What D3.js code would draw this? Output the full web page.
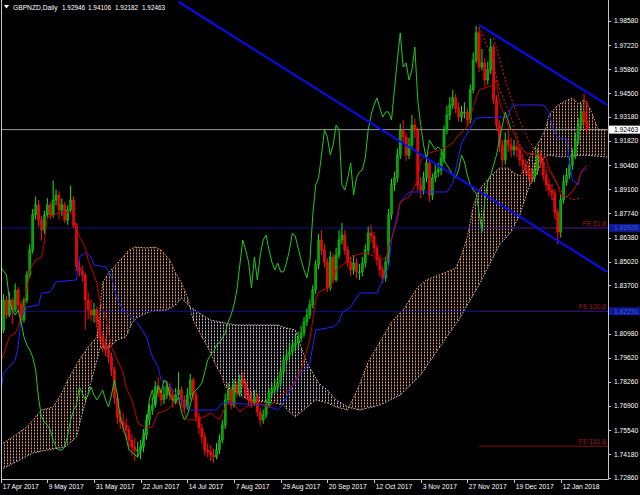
<!DOCTYPE html>
<html><head><meta charset="utf-8">
<script src="https://cdn.jsdelivr.net/npm/d3@7"></script>
<style>html,body{margin:0;padding:0;background:#000;} svg{display:block;}</style>
</head><body>
<svg id="c" width="640" height="495"></svg>
<script>
// ---------- data ----------
const symbolTitle = "GBPNZD,Daily";
const headerValues = ["1.92946","1.94106","1.92182","1.92463"];

const dateTickIndex = [0,16,32,48,64,80,96,112,128,144,160,176,192];
const dateTickLabels = ["17 Apr 2017","9 May 2017","31 May 2017","22 Jun 2017","14 Jul 2017","7 Aug 2017","29 Aug 2017","20 Sep 2017","12 Oct 2017","3 Nov 2017","27 Nov 2017","19 Dec 2017","12 Jan 2018"];

const priceTicks = [1.98580,1.97220,1.95860,1.94500,1.93180,1.91820,1.90460,1.89100,1.87740,1.86380,1.85020,1.83700,1.80980,1.79620,1.78260,1.76900,1.75540,1.74180,1.72860];

const open = [1.8250,1.8118,1.8287,1.8202,1.8287,1.8231,1.8343,1.8259,1.8174,1.8287,
1.8428,1.8568,1.8766,1.8822,1.8737,1.8681,1.8766,1.8822,1.8766,1.8850,
1.8878,1.8794,1.8822,1.8737,1.8794,1.8850,1.8709,1.8473,1.8450,1.8428,
1.8287,1.8231,1.8202,1.8231,1.8163,1.8079,1.8033,1.8005,1.7966,1.7893,
1.7735,1.7628,1.7600,1.7583,1.7555,1.7498,1.7459,1.7442,1.7442,1.7459,
1.7527,1.7611,1.7667,1.7695,1.7797,1.7763,1.7724,1.7752,1.7797,1.7752,
1.7724,1.7752,1.7780,1.7724,1.7684,1.7752,1.7836,1.7752,1.7628,1.7566,
1.7515,1.7442,1.7431,1.7414,1.7403,1.7442,1.7498,1.7583,1.7724,1.7780,
1.7695,1.7808,1.7763,1.7836,1.7819,1.7752,1.7724,1.7707,1.7741,1.7656,
1.7611,1.7639,1.7695,1.7763,1.7780,1.7797,1.7819,1.7882,1.7949,1.7977,
1.7994,1.8033,1.8045,1.8073,1.8101,1.8163,1.8202,1.8259,1.8343,1.8484,
1.8625,1.8568,1.8500,1.8355,1.8529,1.8400,1.8540,1.8625,1.8653,1.8568,
1.8500,1.8456,1.8495,1.8445,1.8445,1.8495,1.8568,1.8664,1.8647,1.8580,
1.8512,1.8456,1.8411,1.8500,1.8766,1.8935,1.8974,1.9103,1.9244,1.9205,
1.9103,1.9160,1.9272,1.9244,1.8935,1.8906,1.8974,1.9058,1.8878,1.8974,
1.9008,1.9019,1.9087,1.9244,1.9329,1.9385,1.9425,1.9368,1.9317,1.9346,
1.9346,1.9301,1.9470,1.9638,1.9791,1.9599,1.9622,1.9526,1.9582,1.9712,
1.9413,1.9272,1.9160,1.9075,1.9188,1.9160,1.9132,1.9149,1.9132,1.9075,
1.9047,1.9019,1.8991,1.8974,1.9019,1.9103,1.9064,1.8991,1.8935,1.8906,
1.8889,1.8782,1.8670,1.8850,1.8952,1.8991,1.9047,1.9103,1.9188,1.9272,
1.9346,1.92946];

const high = [1.8290,1.8320,1.8310,1.8330,1.8300,1.8380,1.8360,1.8280,1.8300,1.8450,
1.8600,1.8800,1.8870,1.8850,1.8760,1.8790,1.8860,1.8840,1.8960,1.8910,
1.8900,1.8860,1.8840,1.8820,1.8930,1.8870,1.8720,1.8510,1.8480,1.8440,
1.8330,1.8290,1.8270,1.8250,1.8190,1.8110,1.8070,1.8040,1.7990,1.7910,
1.7760,1.7670,1.7650,1.7620,1.7580,1.7530,1.7510,1.7490,1.7500,1.7560,
1.7640,1.7700,1.7740,1.7830,1.7850,1.7790,1.7800,1.7830,1.7820,1.7780,
1.7790,1.7880,1.7800,1.7750,1.7790,1.7870,1.7850,1.7770,1.7650,1.7590,
1.7540,1.7480,1.7470,1.7450,1.7480,1.7530,1.7610,1.7760,1.7820,1.7800,
1.7840,1.7830,1.7870,1.7880,1.7840,1.7790,1.7770,1.7780,1.7760,1.7680,
1.7670,1.7730,1.7790,1.7820,1.7840,1.7860,1.7910,1.7980,1.8010,1.8040,
1.8060,1.8090,1.8110,1.8140,1.8190,1.8240,1.8290,1.8370,1.8510,1.8660,
1.8680,1.8600,1.8520,1.8560,1.8550,1.8580,1.8680,1.8720,1.8680,1.8590,
1.8530,1.8540,1.8520,1.8490,1.8530,1.8600,1.8700,1.8710,1.8670,1.8600,
1.8540,1.8480,1.8530,1.8800,1.8970,1.9010,1.9140,1.9280,1.9300,1.9230,
1.9200,1.9330,1.9310,1.9260,1.8980,1.9010,1.9100,1.9080,1.9000,1.9050,
1.9060,1.9120,1.9270,1.9380,1.9430,1.9470,1.9450,1.9400,1.9380,1.9400,
1.9370,1.9500,1.9680,1.9830,1.9820,1.9700,1.9650,1.9630,1.9760,1.9730,
1.9440,1.9300,1.9190,1.9230,1.9260,1.9200,1.9190,1.9180,1.9160,1.9110,
1.9080,1.9050,1.9030,1.9060,1.9140,1.9130,1.9090,1.9020,1.8970,1.8940,
1.8910,1.8800,1.8880,1.8990,1.9030,1.9090,1.9140,1.9230,1.9310,1.9390,
1.9450,1.94106];

const low = [1.8080,1.8100,1.8180,1.8190,1.8150,1.8220,1.8230,1.8150,1.8160,1.8270,
1.8410,1.8550,1.8740,1.8700,1.8620,1.8660,1.8750,1.8740,1.8750,1.8820,
1.8740,1.8760,1.8720,1.8710,1.8780,1.8690,1.8450,1.8420,1.8390,1.8120,
1.8180,1.8170,1.8160,1.8130,1.8050,1.7990,1.7970,1.7930,1.7860,1.7700,
1.7590,1.7560,1.7540,1.7500,1.7460,1.7410,1.7380,1.7400,1.7390,1.7430,
1.7500,1.7580,1.7640,1.7680,1.7740,1.7690,1.7700,1.7730,1.7720,1.7680,
1.7700,1.7730,1.7690,1.7650,1.7670,1.7730,1.7720,1.7600,1.7530,1.7480,
1.7410,1.7400,1.7380,1.7370,1.7390,1.7420,1.7480,1.7560,1.7700,1.7670,
1.7680,1.7740,1.7740,1.7790,1.7730,1.7690,1.7680,1.7690,1.7630,1.7580,
1.7590,1.7620,1.7680,1.7740,1.7760,1.7770,1.7800,1.7860,1.7920,1.7950,
1.7970,1.8000,1.8010,1.8050,1.8080,1.8140,1.8180,1.8240,1.8320,1.8460,
1.8540,1.8470,1.8330,1.8340,1.8380,1.8390,1.8520,1.8600,1.8540,1.8470,
1.8420,1.8430,1.8410,1.8400,1.8420,1.8470,1.8540,1.8610,1.8550,1.8480,
1.8420,1.8380,1.8390,1.8480,1.8740,1.8900,1.8950,1.9080,1.9170,1.9070,
1.9080,1.9140,1.9200,1.8900,1.8860,1.8880,1.8950,1.8840,1.8850,1.8950,
1.8980,1.8990,1.9060,1.9220,1.9300,1.9360,1.9340,1.9290,1.9290,1.9310,
1.9260,1.9280,1.9450,1.9620,1.9570,1.9580,1.9490,1.9500,1.9560,1.9390,
1.9240,1.9120,1.9040,1.9050,1.9120,1.9090,1.9100,1.9090,1.9040,1.9010,
1.8990,1.8960,1.8940,1.8950,1.8990,1.9030,1.8960,1.8900,1.8870,1.8850,
1.8740,1.8600,1.8640,1.8830,1.8930,1.8970,1.9020,1.9080,1.9160,1.9250,
1.9270,1.92182];

const close = [1.8118,1.8287,1.8202,1.8287,1.8231,1.8343,1.8259,1.8174,1.8287,1.8428,
1.8568,1.8766,1.8822,1.8737,1.8681,1.8766,1.8822,1.8766,1.8850,1.8878,
1.8794,1.8822,1.8737,1.8794,1.8850,1.8709,1.8473,1.8450,1.8428,1.8287,
1.8231,1.8202,1.8231,1.8163,1.8079,1.8033,1.8005,1.7966,1.7893,1.7735,
1.7628,1.7600,1.7583,1.7555,1.7498,1.7459,1.7442,1.7442,1.7459,1.7527,
1.7611,1.7667,1.7695,1.7797,1.7763,1.7724,1.7752,1.7797,1.7752,1.7724,
1.7752,1.7780,1.7724,1.7684,1.7752,1.7836,1.7752,1.7628,1.7566,1.7515,
1.7442,1.7431,1.7414,1.7403,1.7442,1.7498,1.7583,1.7724,1.7780,1.7695,
1.7808,1.7763,1.7836,1.7819,1.7752,1.7724,1.7707,1.7741,1.7656,1.7611,
1.7639,1.7695,1.7763,1.7780,1.7797,1.7819,1.7882,1.7949,1.7977,1.7994,
1.8033,1.8045,1.8073,1.8101,1.8163,1.8202,1.8259,1.8343,1.8484,1.8625,
1.8568,1.8500,1.8355,1.8529,1.8400,1.8540,1.8625,1.8653,1.8568,1.8500,
1.8456,1.8495,1.8445,1.8445,1.8495,1.8568,1.8664,1.8647,1.8580,1.8512,
1.8456,1.8411,1.8500,1.8766,1.8935,1.8974,1.9103,1.9244,1.9205,1.9103,
1.9160,1.9272,1.9244,1.8935,1.8906,1.8974,1.9058,1.8878,1.8974,1.9008,
1.9019,1.9087,1.9244,1.9329,1.9385,1.9425,1.9368,1.9317,1.9346,1.9346,
1.9301,1.9470,1.9638,1.9791,1.9599,1.9622,1.9526,1.9582,1.9712,1.9413,
1.9272,1.9160,1.9075,1.9188,1.9160,1.9132,1.9149,1.9132,1.9075,1.9047,
1.9019,1.8991,1.8974,1.9019,1.9103,1.9064,1.8991,1.8935,1.8906,1.8889,
1.8782,1.8670,1.8850,1.8952,1.8991,1.9047,1.9103,1.9188,1.9272,1.9346,
1.92946,1.92463];

// Ichimoku lines as [bar index, price]
const tenkan = [[0,1.7932],[3,1.8079],[5,1.8101],[6,1.8135],[8,1.8247],[10,1.8456],[12,1.8512],[14,1.8529],[15,1.8608],[16,1.8754],[20,1.8777],[24,1.8782],[25,1.8754],[27,1.8642],[29,1.8585],[30,1.8512],[31,1.8473],[33,1.8383],[34,1.8287],[36,1.8191],[37,1.8101],[38,1.8022],[40,1.7949],[42,1.7876],[43,1.7797],[45,1.7724],[46,1.7667],[47,1.7594],[50,1.7566],[52,1.7572],[54,1.7651],[57,1.7667],[60,1.7712],[62,1.7695],[64,1.7611],[66,1.7611],[69,1.7622],[72,1.7651],[75,1.7611],[77,1.7684],[79,1.7724],[82,1.7656],[84,1.7684],[88,1.7707],[92,1.7684],[97,1.7763],[99,1.7780],[101,1.7836],[103,1.7893],[106,1.8062],[108,1.8287],[109,1.8332],[113,1.8360],[115,1.8456],[118,1.8495],[122,1.8540],[125,1.8552],[129,1.8529],[132,1.8512],[133,1.8585],[136,1.8737],[137,1.8839],[140,1.8867],[143,1.8963],[144,1.9075],[147,1.9115],[151,1.9132],[155,1.9171],[157,1.9216],[160,1.9261],[162,1.9374],[164,1.9470],[169,1.9498],[170,1.9526],[171,1.9402],[174,1.9272],[176,1.9227],[178,1.9148],[180,1.9115],[185,1.9103],[187,1.9087],[188,1.9030],[191,1.8935],[192,1.8878],[194,1.8867],[196,1.8895],[198,1.8952],[199,1.9008],[201,1.9047]];

const kijun = [[0,1.7763],[1,1.7876],[3,1.7910],[5,1.7949],[6,1.8022],[7,1.8191],[9,1.8247],[13,1.8259],[14,1.8326],[17,1.8332],[18,1.8360],[19,1.8389],[26,1.8400],[27,1.8529],[29,1.8552],[31,1.8529],[32,1.8484],[36,1.8473],[38,1.8416],[40,1.8287],[42,1.8231],[47,1.8157],[50,1.8079],[52,1.7966],[54,1.7910],[55,1.7836],[57,1.7819],[60,1.7763],[62,1.7724],[65,1.7667],[74,1.7667],[76,1.7707],[91,1.7695],[95,1.7667],[96,1.7684],[98,1.7741],[102,1.7854],[106,1.7932],[108,1.8118],[114,1.8135],[116,1.8163],[117,1.8214],[120,1.8247],[123,1.8326],[129,1.8326],[131,1.8400],[133,1.8473],[134,1.8625],[137,1.8839],[140,1.8895],[153,1.8895],[155,1.8946],[158,1.9171],[160,1.9227],[163,1.9312],[174,1.9318],[175,1.9374],[177,1.9385],[186,1.9385],[188,1.9346],[189,1.9272],[191,1.9199],[194,1.9194],[195,1.9064],[196,1.8963],[198,1.8935],[199,1.9008],[201,1.9030]];

const spanA = [[0,1.7470],[4,1.7515],[9,1.7572],[14,1.7667],[18,1.7684],[21,1.7763],[23,1.7836],[27,1.7949],[30,1.8022],[33,1.8079],[35,1.8383],[37,1.8439],[41,1.8512],[44,1.8568],[46,1.8585],[50,1.8580],[53,1.8585],[55,1.8568],[58,1.8512],[60,1.8439],[62,1.8383],[64,1.8304],[66,1.8174],[69,1.8079],[71,1.8022],[72,1.7988],[74,1.7910],[76,1.7854],[77,1.7797],[81,1.7763],[85,1.7724],[91,1.7712],[94,1.7707],[97,1.7695],[99,1.7656],[101,1.7628],[103,1.7656],[105,1.7684],[108,1.7724],[112,1.7707],[115,1.7684],[119,1.7667],[123,1.7808],[126,1.7938],[130,1.8051],[134,1.8163],[138,1.8231],[143,1.8360],[146,1.8400],[153,1.8445],[156,1.8467],[158,1.8540],[160,1.8642],[162,1.8811],[164,1.8906],[168,1.8985],[171,1.9030],[174,1.9030],[176,1.9002],[178,1.8985],[180,1.9036],[182,1.9115],[185,1.9188],[187,1.9261],[188,1.9329],[191,1.9385],[193,1.9402],[196,1.9425],[198,1.9391],[200,1.9413],[202,1.9368],[204,1.9284],[205,1.9244],[208,1.9244]];

const spanB = [[0,1.7330],[11,1.7425],[16,1.7442],[22,1.7459],[26,1.7515],[28,1.7651],[30,1.7763],[33,1.7949],[34,1.8017],[37,1.8017],[40,1.8062],[43,1.8079],[45,1.8157],[47,1.8191],[51,1.8220],[57,1.8231],[60,1.8259],[62,1.8298],[65,1.8247],[68,1.8214],[72,1.8174],[77,1.8157],[81,1.8146],[95,1.8146],[98,1.8129],[101,1.8118],[103,1.8022],[105,1.7932],[107,1.7876],[109,1.7819],[112,1.7780],[115,1.7724],[119,1.7684],[123,1.7667],[130,1.7695],[137,1.7752],[144,1.7865],[151,1.8033],[157,1.8174],[164,1.8372],[171,1.8597],[175,1.8670],[178,1.8766],[181,1.8918],[184,1.9008],[186,1.9087],[188,1.9103],[192,1.9092],[200,1.9103],[208,1.9092]];

const chikouShift = 26;
const currentPrice = 1.92463;
const fullWidthLevels = [1.86926, 1.82231];
const feLabels = ["FE 61.8","FE 100.0","FE 161.8"];
const fePrices = [1.86926, 1.82231, 1.74635];
const feStartIndex = 164;
const trendLines = [[[61,1.9966],[208,1.8445]], [[164,1.9836],[208,1.9385]]];
const dottedLines = [
  [[164,1.9824],[168,1.9667],[171,1.9481],[175,1.9312],[178,1.9160],[183,1.9047],[187,1.8963],[190,1.8822],[192,1.8636]],
  [[169,1.9762],[173,1.9526],[177,1.9329],[181,1.9188],[185,1.9087],[189,1.8991],[193,1.8878],[196,1.8850],[199,1.8861]]
];

// ---------- drawing ----------
const W = 640, H = 495, PL = 2, PR = 608, PT = 0, PB = 479;
const FONT = "'Liberation Sans', Arial, sans-serif";
const FS = 6.7;
const svg = d3.select("#c");
svg.append("rect").attr("width", W).attr("height", H).attr("fill", "#000");

const x = d3.scaleLinear().domain([0, 192]).range([0.63, 560.7]);
const y = d3.scaleLinear().domain([1.72860, 1.98580]).range([477.7, 21]);

const defs = svg.append("defs");
defs.append("clipPath").attr("id", "plot").append("rect")
  .attr("x", PL).attr("y", PT).attr("width", PR - PL).attr("height", PB - PT);
function dotPattern(id, color) {
  const p = defs.append("pattern").attr("id", id).attr("patternUnits", "userSpaceOnUse")
    .attr("width", 3).attr("height", 3);
  p.append("rect").attr("x", 1).attr("y", 0.5).attr("width", 1).attr("height", 1.8).attr("fill", color);
}
dotPattern("dotOrange", "#f4a460");
dotPattern("dotThistle", "#d8bfd8");

const aboveB = d3.area().x(d => x(d[0])).y0(PT).y1(d => y(d[1]));
const belowB = d3.area().x(d => x(d[0])).y0(PB).y1(d => y(d[1]));
defs.append("clipPath").attr("id", "aboveB").append("path").attr("d", aboveB(spanB));
defs.append("clipPath").attr("id", "belowB").append("path").attr("d", belowB(spanB));

const plot = svg.append("g").attr("clip-path", "url(#plot)");
const line = d3.line().x(d => x(d[0])).y(d => y(d[1]));

// cloud
const band = line(spanA.concat(spanB.slice().reverse())) + "Z";
plot.append("g").attr("clip-path", "url(#aboveB)").append("path").attr("d", band).attr("fill", "url(#dotOrange)");
plot.append("g").attr("clip-path", "url(#belowB)").append("path").attr("d", band).attr("fill", "url(#dotThistle)");
plot.append("path").attr("d", line(spanA)).attr("fill", "none").attr("stroke", "#f4a460")
  .attr("stroke-width", 1).attr("stroke-dasharray", "1.5,1.5");
plot.append("path").attr("d", line(spanB)).attr("fill", "none").attr("stroke", "#d8bfd8")
  .attr("stroke-width", 1).attr("stroke-dasharray", "1.5,1.5");

// horizontal levels
plot.append("line").attr("x1", PL).attr("x2", PR).attr("y1", y(currentPrice)).attr("y2", y(currentPrice))
  .attr("stroke", "#9a9a9a").attr("stroke-width", 1);
fePrices.forEach((p, k) => {
  plot.append("line").attr("x1", x(feStartIndex)).attr("x2", PR).attr("y1", y(p)).attr("y2", y(p))
    .attr("stroke", "#8b0a0a").attr("stroke-width", 1);
});
fullWidthLevels.forEach(p => {
  plot.append("line").attr("x1", PL).attr("x2", PR).attr("y1", y(p)).attr("y2", y(p))
    .attr("stroke", "#12128e").attr("stroke-width", 1);
});

// candles
const bars = plot.append("g");
close.forEach((c, i) => {
  const o = open[i], up = c >= o;
  const wick = up ? "#22e022" : "#ff1010";
  bars.append("line").attr("x1", x(i)).attr("x2", x(i)).attr("y1", y(high[i])).attr("y2", y(low[i]))
    .attr("stroke", wick).attr("stroke-width", 1);
  const yt = y(Math.max(o, c)), yb = y(Math.min(o, c));
  bars.append("rect").attr("x", x(i) - 1.1).attr("width", 2.2)
    .attr("y", yt).attr("height", Math.max(1, yb - yt))
    .attr("fill", up ? "#00a600" : "#f00000")
    .attr("stroke", up ? "#1fd01f" : "#ff2020").attr("stroke-width", 0.4);
});

// Ichimoku lines
plot.append("path").attr("d", line(kijun)).attr("fill", "none").attr("stroke", "#2222ff").attr("stroke-width", 1);
plot.append("path").attr("d", line(tenkan)).attr("fill", "none").attr("stroke", "#c80000").attr("stroke-width", 1);
const chikou = close.map((c, i) => [i - chikouShift, c]).filter(d => d[0] >= 0);
plot.append("path").attr("d", line(chikou)).attr("fill", "none").attr("stroke", "#22c822").attr("stroke-width", 1);

dottedLines.forEach(dl => {
  plot.append("path").attr("d", line(dl)).attr("fill", "none").attr("stroke", "#e01818")
    .attr("stroke-width", 1).attr("stroke-dasharray", "2,2");
});

// trend lines
trendLines.forEach(tl => {
  plot.append("path").attr("d", line(tl)).attr("fill", "none").attr("stroke", "#0a0aff").attr("stroke-width", 2);
});

// FE labels
fePrices.forEach((p, k) => {
  svg.append("text").attr("x", 606).attr("y", y(p) - 2).attr("text-anchor", "end")
    .attr("font-family", FONT).attr("font-size", FS).attr("fill", "#a01818").text(feLabels[k]);
});

// frame / axes
svg.append("line").attr("x1", 1.5).attr("x2", 1.5).attr("y1", 0).attr("y2", PB).attr("stroke", "#c8c8c8");
svg.append("line").attr("x1", PR + 0.5).attr("x2", PR + 0.5).attr("y1", 0).attr("y2", PB + 0.5).attr("stroke", "#c8c8c8");
svg.append("line").attr("x1", 1.5).attr("x2", PR + 0.5).attr("y1", PB + 0.5).attr("y2", PB + 0.5).attr("stroke", "#c8c8c8");

const fmt = d3.format(".5f");
priceTicks.forEach(p => {
  const yy = Math.round(y(p)) + 0.5;
  svg.append("line").attr("x1", PR).attr("x2", PR + 3).attr("y1", yy).attr("y2", yy).attr("stroke", "#c8c8c8");
  svg.append("text").attr("x", 614).attr("y", y(p) + 2.4).attr("font-family", FONT).attr("font-size", FS)
    .attr("fill", "#fff").text(fmt(p));
});
// highlighted axis labels
fullWidthLevels.forEach(p => {
  svg.append("rect").attr("x", PR + 1).attr("y", y(p) - 4).attr("width", W - PR - 1).attr("height", 8).attr("fill", "#0c1a98");
  svg.append("text").attr("x", 614).attr("y", y(p) + 2.4).attr("font-family", FONT).attr("font-size", FS)
    .attr("fill", "#4456cc").text(fmt(p));
});
svg.append("rect").attr("x", PR + 1).attr("y", y(currentPrice) - 4).attr("width", W - PR - 1).attr("height", 8).attr("fill", "#fff");
svg.append("text").attr("x", 614).attr("y", y(currentPrice) + 2.4).attr("font-family", FONT).attr("font-size", FS)
  .attr("fill", "#000").text(fmt(currentPrice));

dateTickIndex.forEach((di, k) => {
  const xx = Math.max(1.5, Math.round(x(di)) + 0.5);
  svg.append("line").attr("x1", xx).attr("x2", xx).attr("y1", PB).attr("y2", PB + 4).attr("stroke", "#c8c8c8");
  svg.append("text").attr("x", xx + 1.2).attr("y", 488.5).attr("font-family", FONT).attr("font-size", FS)
    .attr("fill", "#fff").text(dateTickLabels[k]);
});

// header
svg.append("path").attr("d", "M4,5 L9,5 L6.5,8.5 Z").attr("fill", "#fff");
svg.append("text").attr("x", 13).attr("y", 9.5).attr("font-family", FONT).attr("font-size", FS)
  .attr("fill", "#fff").text(symbolTitle);
const hx = [62, 88, 115, 142];
headerValues.forEach((v, k) => {
  svg.append("text").attr("x", hx[k]).attr("y", 9.5).attr("font-family", FONT).attr("font-size", 6.4)
    .attr("fill", "#fff").text(v);
});
</script>
</body></html>
